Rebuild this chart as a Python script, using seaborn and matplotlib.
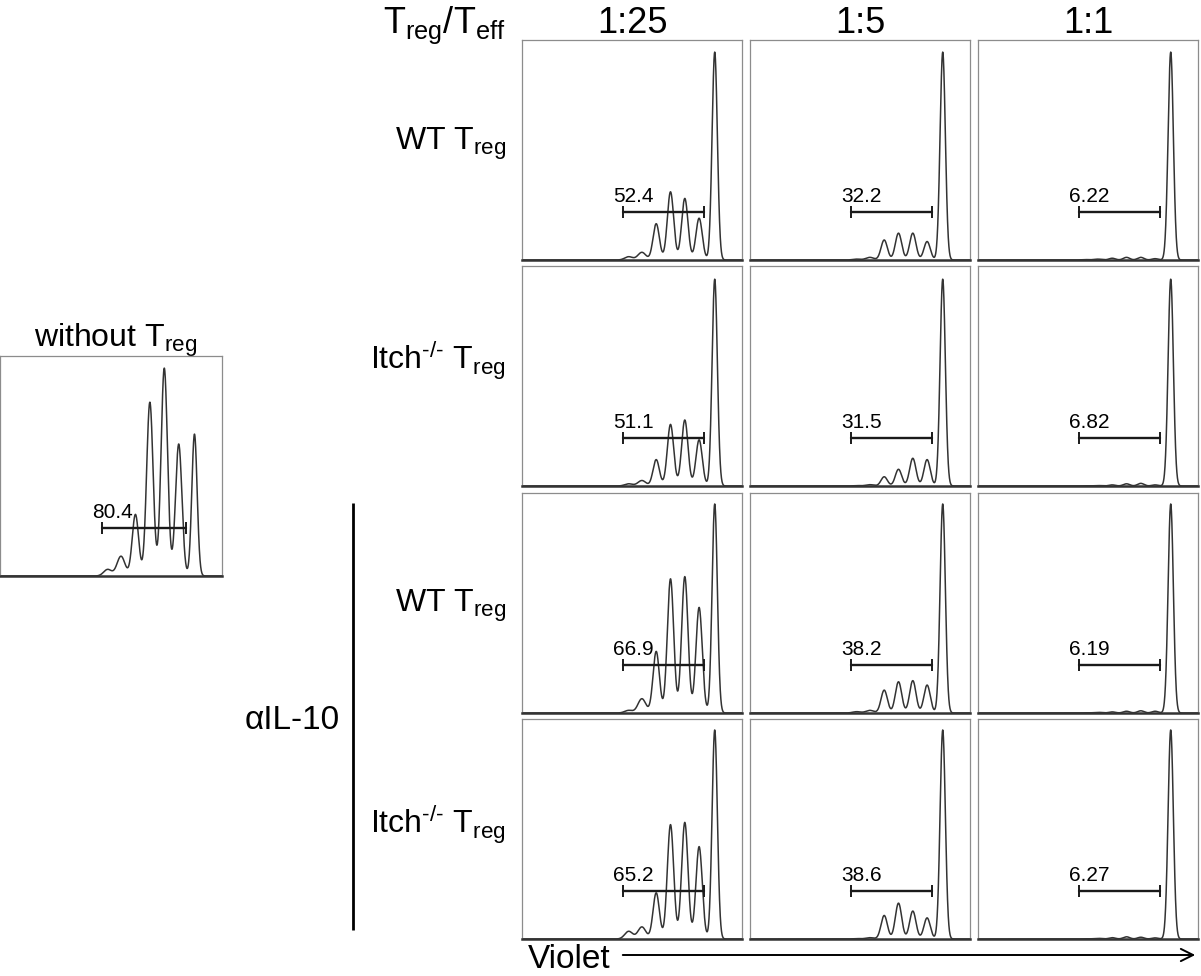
import numpy as np
import matplotlib
matplotlib.use("Agg")
import matplotlib.pyplot as plt
import seaborn as sns

# ---------------------------------------------------------------- data
# Violet dye positions (fraction of the axis) of the undivided peak and the
# successive division peaks
generation_pos = [0.876, 0.805, 0.740, 0.675, 0.610, 0.545, 0.485]

ratios = ["1:25", "1:5", "1:1"]
HY = "\u2010"  # typographic hyphen for the knockout superscript
row_labels = ["WT T$_{reg}$", f"Itch$^{{{HY}/{HY}}}$ T$_{{reg}}$",
              "WT T$_{reg}$", f"Itch$^{{{HY}/{HY}}}$ T$_{{reg}}$"]

# percentage of divided cells in the gate, per row (condition) and column (ratio)
gate_pct = [[52.4, 32.2, 6.22],
            [51.1, 31.5, 6.82],
            [66.9, 38.2, 6.19],
            [65.2, 38.6, 6.27]]
gate_pct_no_treg = 80.4

# relative peak heights (one value per generation position)
peaks_wt = [[0.945, 0.19, 0.28, 0.31, 0.165, 0.035, 0.015],
            [0.945, 0.084, 0.122, 0.122, 0.091, 0.012, 0.004],
            [0.945, 0.006, 0.012, 0.012, 0.008, 0.004, 0.002]]
peaks_itch = [[0.94, 0.21, 0.30, 0.28, 0.12, 0.025, 0.010],
              [0.94, 0.12, 0.126, 0.076, 0.042, 0.006, 0.002],
              [0.94, 0.005, 0.012, 0.010, 0.005, 0.002, 0.001]]
peaks_wt_il10 = [[0.95, 0.48, 0.62, 0.61, 0.28, 0.065, 0.012],
                 [0.95, 0.127, 0.147, 0.142, 0.104, 0.012, 0.006],
                 [0.95, 0.008, 0.010, 0.008, 0.005, 0.003, 0.001]]
peaks_itch_il10 = [[0.95, 0.42, 0.53, 0.52, 0.21, 0.055, 0.035],
                   [0.95, 0.096, 0.127, 0.163, 0.107, 0.006, 0.002],
                   [0.95, 0.005, 0.008, 0.010, 0.006, 0.003, 0.001]]
peaks_no_treg = [0.645, 0.60, 0.945, 0.79, 0.28, 0.09, 0.03]

panel_peaks = [peaks_wt, peaks_itch, peaks_wt_il10, peaks_itch_il10]

# ---------------------------------------------------------------- style
sns.set_theme(style="white")
plt.rcParams["font.family"] = ["Liberation Sans", "DejaVu Sans"]
plt.rcParams["mathtext.fontset"] = "custom"
plt.rcParams["mathtext.rm"] = "Liberation Sans"
plt.rcParams["mathtext.it"] = "Liberation Sans:italic"
plt.rcParams["mathtext.default"] = "regular"
plt.rcParams["text.color"] = "black"

W, H = 1201, 976
fig = plt.figure(figsize=(W / 100, H / 100), dpi=100)

# full-figure layer in pixel coordinates for labels, bracket and arrow
over = fig.add_axes([0, 0, 1, 1], zorder=-1)
over.set_xlim(0, W)
over.set_ylim(H, 0)
over.axis("off")

CURVE = "#333333"
GATE_LO, GATE_Y = 0.46, 0.22
xgrid = np.linspace(0, 1, 1500)


def histogram(heights):
    y = np.zeros_like(xgrid)
    for i, (p, h) in enumerate(zip(generation_pos, heights)):
        s = 0.0120 if i == 0 else (0.0145 if i < 5 else 0.018)
        y += h * np.exp(-0.5 * ((xgrid - p) / s) ** 2)
    return y


def panel(px, py, pw, ph, heights, pct, gate_hi):
    ax = fig.add_axes([px / W, 1 - (py + ph) / H, pw / W, ph / H])
    sns.lineplot(x=xgrid, y=histogram(heights), ax=ax, color=CURVE, lw=1.1)
    ax.plot([GATE_LO, gate_hi], [GATE_Y, GATE_Y], color="#1a1a1a", lw=1.7,
            marker="|", ms=9, mew=1.4)
    ax.text(0.505, GATE_Y + 0.045, f"{pct:g}", ha="center", va="baseline",
            fontsize=15, color="black")
    ax.set_xlim(0, 1)
    ax.set_ylim(0, 1)
    ax.set_xticks([])
    ax.set_yticks([])
    for side in ["left", "right", "top"]:
        ax.spines[side].set_color("#8c8c8c")
        ax.spines[side].set_linewidth(0.9)
    ax.spines["bottom"].set_color("#333333")
    ax.spines["bottom"].set_linewidth(1.8)
    return ax


col_x = [522, 750, 978]
row_y = [40, 266, 493, 719]
PW, PH = 220, 220

for r in range(4):
    for c in range(3):
        panel(col_x[c], row_y[r], PW, PH, panel_peaks[r][c], gate_pct[r][c], 0.825)

# control without regulatory T cells
panel(0, 356, 222, 220, peaks_no_treg, gate_pct_no_treg, 0.836)
over.text(116, 347, "without T$_{reg}$", ha="center", va="baseline", fontsize=23)

# column headers
over.text(506, 33, "T$_{reg}$/T$_{eff}$", ha="right", va="baseline", fontsize=26)
for c, lab in enumerate(ratios):
    over.text(col_x[c] + PW / 2, 33, lab, ha="center", va="baseline", fontsize=26)

# row labels
label_base = [150, 370, 612, 834]
for r, lab in enumerate(row_labels):
    over.text(506, label_base[r], lab, ha="right", va="baseline", fontsize=23)

# anti-IL-10 bracket
over.plot([353, 353], [503, 930], color="black", lw=2.0, solid_capstyle="butt")
over.text(340, 729, "\u03b1IL-10", ha="right", va="baseline", fontsize=24)

# Violet axis arrow
over.text(528, 968, "Violet", ha="left", va="baseline", fontsize=24)
over.annotate("", xy=(1198, 955), xytext=(620, 955),
              arrowprops=dict(arrowstyle="->", lw=1.4, color="black",
                              mutation_scale=22))

fig.savefig("out.png", dpi=100, facecolor="white")
